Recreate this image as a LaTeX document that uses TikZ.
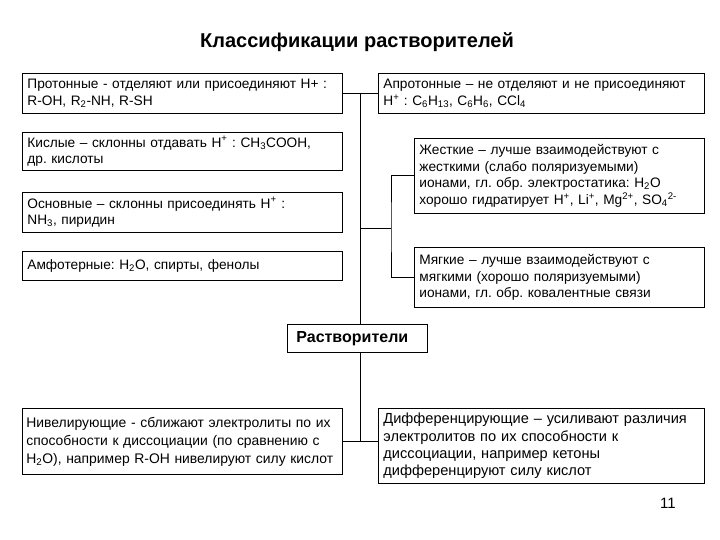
\documentclass[tikz,border=0pt]{standalone}
\usepackage{fontspec}
\setmainfont{Liberation Sans}
\frenchspacing
\begin{document}
\begin{tikzpicture}[x=1pt,y=-1pt,
  box/.style={draw, line width=0.8pt, anchor=north west, inner xsep=5pt, inner ysep=0pt, align=left, font=\fontsize{13.7}{16.5}\selectfont},
  nivbox/.style={box, inner xsep=4pt, font=\fontsize{13.9}{18}\selectfont},
  bigbox/.style={box, font=\fontsize{14.6}{17.2}\selectfont},
  conn/.style={line width=0.8pt}]
\useasboundingbox (0,0) rectangle (720,540);
\node[font=\fontsize{20}{23}\selectfont\bfseries] (title) at (357,42) {Классификации растворителей};
\node[box, text width=310pt, minimum height=40pt] (prot) at (22,73) {Протонные - отделяют или присоединяют Н+ :\\R-OH, R\textsubscript{2}-NH, R-SH};
\node[box, text width=316pt, minimum height=40pt] (aprot) at (378,73) {Апротонные – не отделяют и не присоединяют\\Н\textsuperscript{+} : C\textsubscript{6}H\textsubscript{13}, C\textsubscript{6}H\textsubscript{6}, CCl\textsubscript{4}};
\node[box, text width=310pt, minimum height=38pt] (acid) at (22,132) {Кислые – склонны отдавать Н\textsuperscript{+} : CH\textsubscript{3}COOH,\\др. кислоты};
\node[box, text width=310pt, minimum height=40pt] (base) at (22,192) {Основные – склонны присоединять Н\textsuperscript{+} :\\NH\textsubscript{3}, пиридин};
\node[box, text width=310pt, minimum height=29pt] (amph) at (22,251) {Амфотерные: H\textsubscript{2}O, спирты, фенолы};
\node[box, text width=280pt, minimum height=75pt] (hard) at (414,138) {Жесткие – лучше взаимодействуют с\\жесткими (слабо поляризуемыми)\\ионами, гл. обр. электростатика: H\textsubscript{2}O\\хорошо гидратирует Н\textsuperscript{+}, Li\textsuperscript{+}, Mg\textsuperscript{2+}, SO\textsubscript{4}\textsuperscript{2-}};
\node[box, text width=280pt, minimum height=60pt] (soft) at (414,247) {Мягкие – лучше взаимодействуют с\\мягкими (хорошо поляризуемыми)\\ионами, гл. обр. ковалентные связи};
\node[box, inner xsep=9pt, text width=122pt, minimum height=28pt, font=\fontsize{16}{19}\selectfont\bfseries] (rast) at (287,324) {Растворители};
\node[nivbox, text width=312pt, minimum height=66pt] (niv) at (22,408) {Нивелирующие - сближают электролиты по их\\способности к диссоциации (по сравнению с\\H\textsubscript{2}O), например R-OH нивелируют силу кислот};
\node[bigbox, text width=316pt, minimum height=75pt] (diff) at (378,408) {Дифференцирующие – усиливают различия\\электролитов по их способности к\\диссоциации, например кетоны\\дифференцируют силу кислот};
\node[font=\fontsize{15}{17}\selectfont] (pg) at (668,503) {11};
\coordinate (j1) at (360,93);
\coordinate (j2) at (360,228);
\coordinate (j3) at (391,228);
\draw[conn] (prot.east) -- (aprot.west);
\draw[conn] (j1) -- (j1 |- rast.north);
\draw[conn] (j2) -- (j3);
\draw[conn] (hard.west) -| (j3) |- (soft.west);
\draw[conn] (j1 |- rast.south) -- (j1 |- niv.east);
\draw[conn] (niv.east) -- (niv.east -| diff.west);
\end{tikzpicture}
\end{document}
